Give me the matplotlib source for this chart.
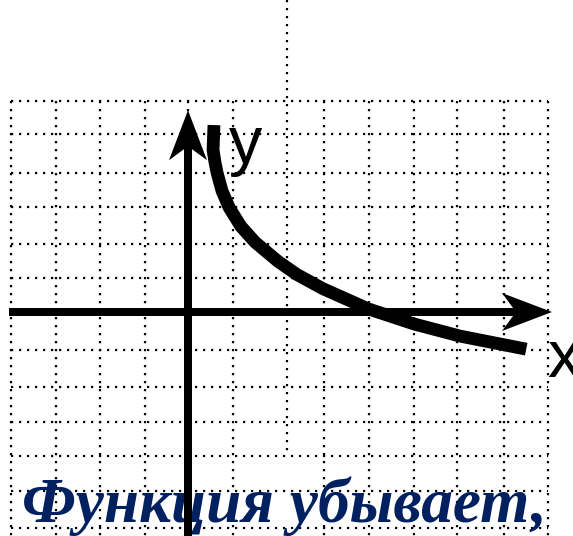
import matplotlib
matplotlib.use("Agg")
import matplotlib.pyplot as plt
from matplotlib.patches import Polygon

# ---- data (grid units) ----
curve_x = [0.58, 0.56, 0.60, 0.65, 0.76, 0.92, 1.18, 1.50, 2.01, 2.43, 3.01, 4.02, 5.05, 6.07, 7.55]
curve_y = [5.28, 4.58, 4.25, 3.93, 3.42, 2.95, 2.42, 1.97, 1.43, 1.06, 0.66, 0.09, -0.34, -0.68, -1.05]

grid_x = [-3.95, -2.95, -1.96, -0.96, 0.0, 1.0, 3.04, 4.04, 5.04, 6.0, 7.05, 8.04]
grid_y = [5.96, 5.03, 3.93, 2.97, 1.92, 0.96, -1.07, -2.12, -3.11, -4.07, -5.06, -6.10]
extra_vline_x = 2.21

axis_label_x = "x"
axis_label_y = "y"
caption = "Функция убывает,"

W, H = 573, 536
fig = plt.figure(figsize=(W / 100, H / 100), dpi=100)
ax = fig.add_axes([0, 0, 1, 1])
xmin, xmax = -4.196, 8.594
ymin, ymax = -6.328, 8.814
ax.set_xlim(xmin, xmax)
ax.set_ylim(ymin, ymax)
ax.axis("off")
sx = (xmax - xmin) / W  # data per pixel
sy = (ymax - ymin) / H

dot = dict(color="black", lw=1.6, linestyle=(0, (1, 2.6)), dash_capstyle="butt", zorder=1)
gtop, gbot = grid_y[0], ymin
gleft, gright = grid_x[0], grid_x[-1]
for gx in grid_x:
    ax.plot([gx, gx], [gtop, gbot], **dot)
ax.plot([extra_vline_x, extra_vline_x], [ymax, -3.95], **dot)
for gy in grid_y:
    ax.plot([gleft, gright], [gy, gy], **dot)

# caption
ax.text(-3.70, -5.94, caption, fontsize=45.5, family="Liberation Serif",
        fontweight="bold", fontstyle="italic", color="#002060",
        ha="left", va="baseline", zorder=3)

# axes with concave arrowheads
L, Wh, N = 50, 19, 36  # pixels
axlw = 8 * 0.72
x_tip = 8.125
y_tip = 5.70
ax.plot([-4.0, x_tip - N * sx], [0, 0], color="black", lw=axlw, solid_capstyle="butt", zorder=4)
ax.plot([0, 0], [ymin, y_tip - N * sy], color="black", lw=axlw, solid_capstyle="butt", zorder=4)
ax.add_patch(Polygon([(x_tip, 0), (x_tip - L * sx, Wh * sy), (x_tip - N * sx, 0),
                      (x_tip - L * sx, -Wh * sy)], closed=True, color="black", lw=0, zorder=4))
ax.add_patch(Polygon([(0, y_tip), (-Wh * sx, y_tip - L * sy), (0, y_tip - N * sy),
                      (Wh * sx, y_tip - L * sy)], closed=True, color="black", lw=0, zorder=4))

# curve
ax.plot(curve_x, curve_y, color="black", lw=9.2, solid_capstyle="butt",
        solid_joinstyle="round", zorder=5)

# axis labels
ax.text(0.915, 4.21, axis_label_y, fontsize=48, family="Liberation Sans",
        ha="left", va="baseline", zorder=5)
ax.text(8.01, -1.836, axis_label_x, fontsize=48, family="Liberation Sans",
        ha="left", va="baseline", zorder=5, clip_on=False)

fig.savefig("out.png", dpi=100)
